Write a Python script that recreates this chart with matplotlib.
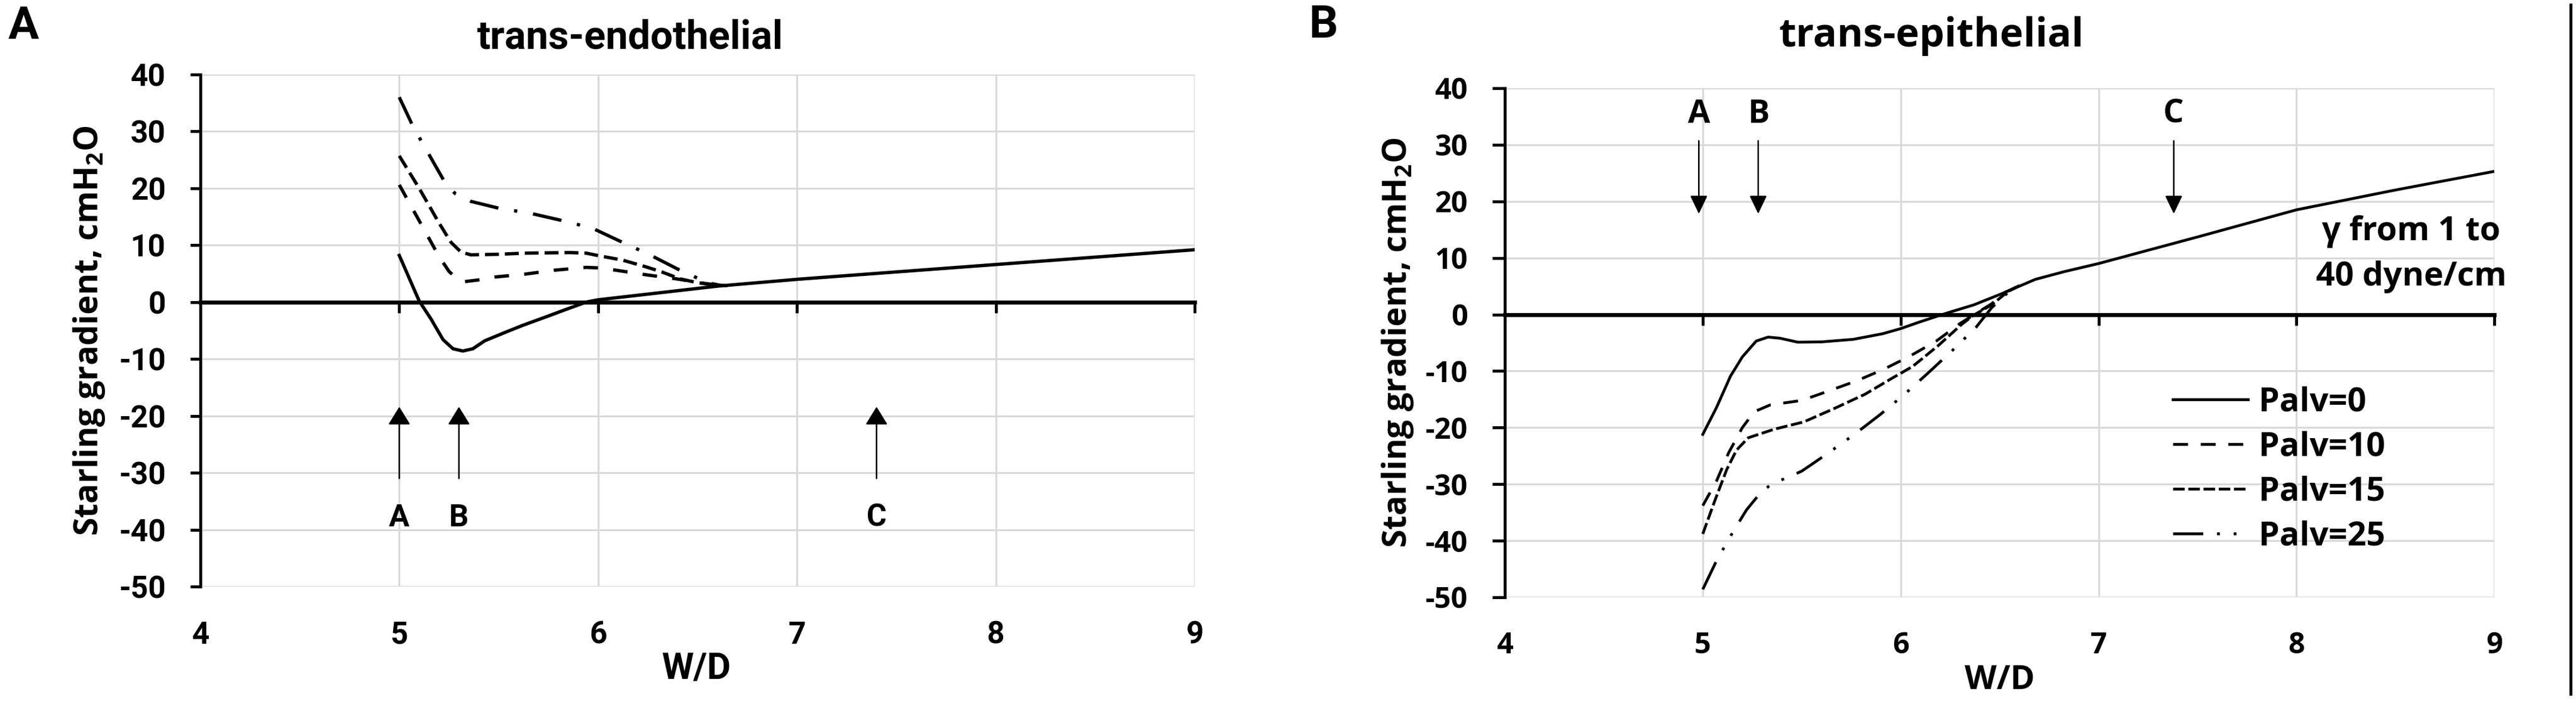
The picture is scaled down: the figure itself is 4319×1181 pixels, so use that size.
import matplotlib
matplotlib.use('Agg')
import matplotlib.pyplot as plt
from matplotlib.lines import Line2D

plt.rcParams['axes.unicode_minus'] = False
plt.rcParams['mathtext.default'] = 'regular'

FONT_A = ['Roboto', 'DejaVu Sans']
FONT_B = ['Open Sans', 'DejaVu Sans']

x_ticks = [4, 5, 6, 7, 8, 9]
y_ticks = [-50, -40, -30, -20, -10, 0, 10, 20, 30, 40]
legend_labels = ['Palv=0', 'Palv=10', 'Palv=15', 'Palv=25']

# trans-endothelial (panel A)
endo_wd_p0 = [5.0, 5.05, 5.1, 5.16, 5.22, 5.27, 5.32, 5.37, 5.43, 5.52, 5.62, 5.73, 5.83, 5.94,
              6.0, 6.2, 6.4, 6.6, 6.8, 7.0, 7.5, 8.0, 8.5, 9.0]
endo_sg_p0 = [8.2, 4.2, 0.2, -3.0, -6.6, -8.2, -8.6, -8.2, -6.8, -5.5, -4.1, -2.7, -1.4, 0.0,
              0.4, 1.2, 2.0, 2.8, 3.4, 4.0, 5.3, 6.6, 7.9, 9.2]
endo_wd_p10 = [5.0, 5.1, 5.2, 5.25, 5.29, 5.33, 5.4, 5.48, 5.63, 5.78, 5.94, 6.01, 6.09, 6.24,
               6.39, 6.55, 6.65]
endo_sg_p10 = [20.6, 14.3, 8.0, 5.4, 4.1, 3.6, 3.9, 4.4, 4.9, 5.6, 6.1, 6.0, 5.6, 4.8,
               4.1, 3.2, 2.9]
endo_wd_p15 = [5.0, 5.1, 5.2, 5.26, 5.31, 5.36, 5.5, 5.63, 5.86, 5.94, 6.01, 6.12, 6.24, 6.32,
               6.41, 6.5, 6.59, 6.65]
endo_sg_p15 = [25.7, 20.0, 13.9, 10.5, 8.8, 8.3, 8.4, 8.6, 8.7, 8.6, 8.1, 7.4, 6.2, 5.3,
               4.1, 3.4, 3.0, 2.9]
endo_wd_p25 = [5.0, 5.07, 5.15, 5.23, 5.28, 5.36, 5.5, 5.66, 5.81, 5.97, 6.11, 6.26, 6.4, 6.55, 6.62]
endo_sg_p25 = [36.0, 30.8, 25.9, 21.0, 19.1, 17.7, 16.5, 15.6, 14.4, 13.0, 10.7, 8.3, 5.8, 3.4, 2.9]

# trans-epithelial (panel B)
epi_wd_p0 = [5.0, 5.07, 5.14, 5.2, 5.27, 5.33, 5.39, 5.48, 5.6, 5.76, 5.91, 6.0, 6.09, 6.22,
             6.37, 6.52, 6.68, 6.83, 7.0, 7.5, 8.0, 8.5, 9.0]
epi_sg_p0 = [-21.2, -16.4, -10.9, -7.5, -4.7, -4.0, -4.2, -4.9, -4.85, -4.4, -3.4, -2.5, -1.4, 0.1,
             1.7, 3.8, 6.2, 7.6, 9.0, 13.7, 18.5, 22.0, 25.3]
epi_wd_p10 = [5.0, 5.07, 5.13, 5.2, 5.26, 5.34, 5.5, 5.63, 5.78, 5.92, 6.05, 6.18, 6.3, 6.4,
              6.46, 6.52, 6.6]
epi_sg_p10 = [-33.8, -29.4, -24.5, -20.0, -17.2, -16.0, -15.2, -13.6, -11.7, -9.6, -7.3, -4.7, -1.6, 0.6,
              1.9, 3.8, 5.1]
epi_wd_p15 = [5.0, 5.06, 5.12, 5.17, 5.23, 5.36, 5.51, 5.66, 5.82, 5.96, 6.06, 6.19, 6.31, 6.37,
              6.46, 6.54, 6.6]
epi_sg_p15 = [-38.8, -33.0, -27.5, -24.0, -21.8, -20.3, -19.0, -16.7, -14.1, -11.2, -9.2, -5.5, -1.7, -0.1,
              1.7, 4.0, 5.1]
epi_wd_p25 = [5.0, 5.07, 5.15, 5.22, 5.29, 5.35, 5.43, 5.5, 5.63, 5.77, 5.9, 6.02, 6.14, 6.26,
              6.38, 6.46, 6.54, 6.6]
epi_sg_p25 = [-48.6, -43.5, -38.6, -34.6, -31.6, -29.9, -28.8, -27.7, -24.6, -21.1, -17.6, -14.1, -10.3, -6.4,
              -2.3, 1.2, 3.8, 5.1]

# A/B/C markers
marker_labels = ['A', 'B', 'C']
endo_marker_wd = [5.0, 5.3, 7.4]
endo_arrow_from, endo_arrow_to, endo_label_y = -31.0, -18.4, -37.9
epi_marker_wd = [4.98, 5.28, 7.38]
epi_arrow_from, epi_arrow_to, epi_label_y = 30.7, 17.8, 35.4


def setup(ax, font, size, ylen):
    ax.set_xlim(4, 9)
    ax.set_ylim(-50, 40)
    ax.set_xticks(x_ticks)
    ax.set_xticklabels([str(v) for v in x_ticks], family=font, size=size, weight='bold')
    ax.set_yticks(y_ticks)
    ax.set_yticklabels([str(v) for v in y_ticks], family=font, size=size, weight='bold')
    ax.grid(True, color='#d9d9d9', lw=2.2)
    ax.set_axisbelow(True)
    for s in ['top', 'right', 'bottom']:
        ax.spines[s].set_visible(False)
    ax.spines['left'].set_linewidth(3.6)
    ax.tick_params(axis='x', length=0, pad=41)
    ax.tick_params(axis='y', direction='out', length=ylen, width=3.5, pad=30)
    # x axis line crossing at zero, labels stay low
    lo, hi = ax.get_ylim()
    sec = ax.secondary_xaxis((0 - lo) / (hi - lo))
    sec.set_alignment('bottom')
    sec.set_xticks(x_ticks)
    sec.tick_params(axis='x', direction='out', length=13, width=3.5,
                    labelbottom=False, labeltop=False)
    sec.spines['bottom'].set_linewidth(4.8)
    sec.set_zorder(1)


def markers(ax, xs, y0, y1, ly, font, size, hw):
    for x, lab in zip(xs, marker_labels):
        ax.annotate('', xy=(x, y1), xytext=(x, y0),
                    arrowprops=dict(arrowstyle='-|>,head_length=0.94,head_width=%s' % hw,
                                    mutation_scale=20, lw=1.8, color='black',
                                    shrinkA=0, shrinkB=0))
        ax.text(x, ly, lab, ha='center', va='center', family=font, size=size, weight='bold')


fig = plt.figure(figsize=(43.19, 11.81), dpi=100)
ax_a = fig.add_axes([0.0778, 0.1668, 0.3860, 0.7274])
ax_b = fig.add_axes([0.5842, 0.1516, 0.3841, 0.7231])

setup(ax_a, FONT_A, 37, 12)
setup(ax_b, FONT_B, 35, 15)

lw_a = 4.0
ax_a.plot(endo_wd_p10, endo_sg_p10, color='black', lw=lw_a, ls=(0, (4.4, 4.6)))
ax_a.plot(endo_wd_p15, endo_sg_p15, color='black', lw=lw_a, ls=(0, (4.2, 1.8)))
ax_a.plot(endo_wd_p25, endo_sg_p25, color='black', lw=lw_a, ls=(0, (8.8, 4.8, 1, 4.8)))
ax_a.plot(endo_wd_p0, endo_sg_p0, color='black', lw=lw_a)

lw_b = 3.4
l10, = ax_b.plot(epi_wd_p10, epi_sg_p10, color='black', lw=lw_b, ls=(0, (5.3, 4.5)))
l15, = ax_b.plot(epi_wd_p15, epi_sg_p15, color='black', lw=lw_b, ls=(0, (4.1, 1.3)))
l25, = ax_b.plot(epi_wd_p25, epi_sg_p25, color='black', lw=lw_b, ls=(0, (10.7, 4.9, 1, 4.9, 1, 4.9)))
l0, = ax_b.plot(epi_wd_p0, epi_sg_p0, color='black', lw=lw_b)

markers(ax_a, endo_marker_wd, endo_arrow_from, endo_arrow_to, endo_label_y, FONT_A, 37, 0.58)
markers(ax_b, epi_marker_wd, epi_arrow_from, epi_arrow_to, epi_label_y, FONT_B, 39, 0.45)

ax_b.text(8.58, 10.6, 'γ from 1 to\n40 dyne/cm', ha='center', va='center', linespacing=1.5,
          family=FONT_B, size=40, weight='bold')

ax_b.legend([l0, l10, l15, l25], legend_labels, loc='upper left',
            bbox_to_anchor=(7.375, -12.6), bbox_transform=ax_b.transData,
            frameon=False, borderpad=0, borderaxespad=0, handlelength=2.27,
            handletextpad=0.32, labelspacing=0.36,
            prop=dict(family=FONT_B, size=40, weight='bold'))

# titles, axis labels, panel letters
fig.text(1056 / 4319, 0.9306, 'trans-endothelial', ha='center', va='baseline',
         family=FONT_A, size=48, weight='bold')
fig.text(3238 / 4319, 0.934, 'trans-epithelial', ha='center', va='baseline',
         family=FONT_B, size=48, weight='bold')
fig.text(14 / 4319, 0.945, 'A', ha='left', va='baseline', family=FONT_A, size=55, weight='bold')
fig.text(2194 / 4319, 0.9467, 'B', ha='left', va='baseline', family=FONT_A, size=55, weight='bold')

ylab = 'Starling gradient, cmH$_2$O'
fig.text(150 / 4319, 1 - 555 / 1181, ylab, rotation=90, ha='center', va='center',
         family=FONT_B, size=40, weight='bold')
fig.text(2344 / 4319, 1 - 575 / 1181, ylab, rotation=90, ha='center', va='center',
         family=FONT_B, size=40, weight='bold')
fig.text(1168 / 4319, 1 - 1121 / 1181, 'W/D', ha='center', va='center',
         family=FONT_A, size=44, weight='bold')
fig.text(3353 / 4319, 1 - 1141 / 1181, 'W/D', ha='center', va='center',
         family=FONT_B, size=40, weight='bold')

# separator line at the right edge
fig.add_artist(Line2D([4310 / 4319, 4310 / 4319], [0.0144, 0.9932], color='black', lw=3.6))

fig.savefig('out.png', dpi=100)
